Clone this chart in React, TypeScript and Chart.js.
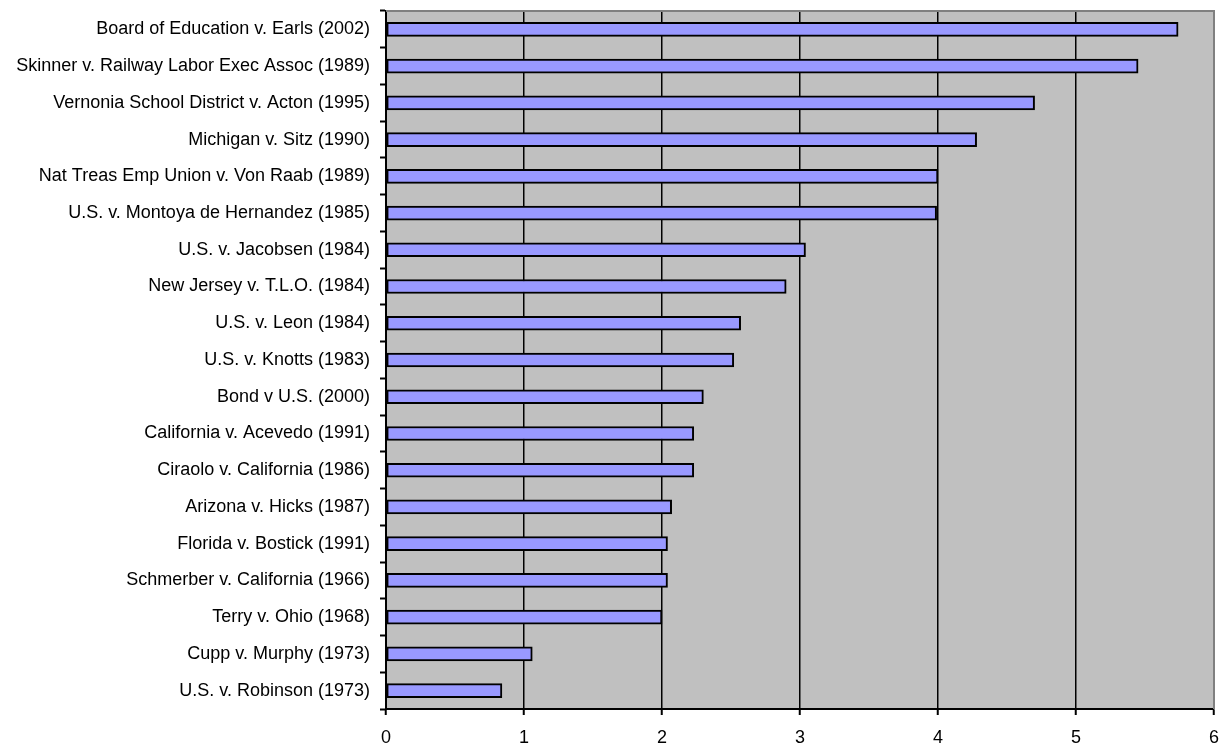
import React, { useEffect, useRef } from "react";
import { Chart, registerables } from "chart.js";

Chart.register(...registerables);

const categories: string[] = [
  "Board of Education v. Earls (2002)",
  "Skinner v. Railway Labor Exec Assoc (1989)",
  "Vernonia School District v. Acton (1995)",
  "Michigan v. Sitz (1990)",
  "Nat Treas Emp Union v. Von Raab (1989)",
  "U.S. v. Montoya de Hernandez (1985)",
  "U.S. v. Jacobsen (1984)",
  "New Jersey v. T.L.O. (1984)",
  "U.S. v. Leon (1984)",
  "U.S. v. Knotts (1983)",
  "Bond v U.S. (2000)",
  "California v. Acevedo (1991)",
  "Ciraolo v. California (1986)",
  "Arizona v. Hicks (1987)",
  "Florida v. Bostick (1991)",
  "Schmerber v. California (1966)",
  "Terry v. Ohio (1968)",
  "Cupp v. Murphy (1973)",
  "U.S. v. Robinson (1973)",
];

const values: number[] = [
  5.74, 5.45, 4.7, 4.28, 4.0, 3.99, 3.04, 2.9, 2.57, 2.52, 2.3, 2.23, 2.23,
  2.07, 2.04, 2.04, 2.0, 1.06, 0.84,
];

const xMin = 0;
const xMax = 6;
const xStep = 1;

const FONT = "'Liberation Sans', Arial, sans-serif";

const plotDecor = {
  id: "plotDecor",
  beforeDraw(chart: any) {
    const { ctx, chartArea } = chart;
    ctx.save();
    ctx.fillStyle = "#C0C0C0";
    ctx.fillRect(chartArea.left, chartArea.top, chartArea.right - chartArea.left, chartArea.bottom - chartArea.top);
    ctx.restore();
  },
  afterDraw(chart: any) {
    const { ctx, chartArea } = chart;
    ctx.save();
    ctx.strokeStyle = "#808080";
    ctx.lineWidth = 2;
    ctx.beginPath();
    ctx.moveTo(chartArea.left, chartArea.top);
    ctx.lineTo(chartArea.right, chartArea.top);
    ctx.lineTo(chartArea.right, chartArea.bottom);
    ctx.stroke();
    ctx.restore();
  },
};

function noPad(scale: any) {
  scale.paddingTop = 0;
  scale.paddingBottom = 0;
  scale.paddingLeft = 0;
  scale.paddingRight = 0;
}

export default function App() {
  const ref = useRef<HTMLCanvasElement | null>(null);

  useEffect(() => {
    if (!ref.current) return;
    const chart = new Chart(ref.current, {
      type: "bar",
      data: {
        labels: categories,
        datasets: [
          {
            data: values,
            backgroundColor: "#9999FF",
            borderColor: "#000000",
            borderWidth: 2,
            borderSkipped: false,
            barThickness: 14,
          },
        ],
      },
      options: {
        indexAxis: "y",
        animation: false,
        responsive: true,
        maintainAspectRatio: false,
        layout: { padding: { top: 11, right: 6, left: 0, bottom: 0 } },
        plugins: {
          legend: { display: false },
          tooltip: { enabled: false },
        },
        scales: {
          x: {
            min: xMin,
            max: xMax,
            ticks: {
              stepSize: xStep,
              color: "#000",
              font: { family: FONT, size: 18 },
              padding: 12,
              maxRotation: 0,
            },
            grid: {
              color: "#000",
              lineWidth: 1.5,
              drawTicks: true,
              tickLength: 6,
              tickColor: "#000",
              tickWidth: 2,
            },
            border: { color: "#000", width: 2 },
            afterFit(scale: any) {
              scale.height = 35;
              noPad(scale);
            },
          },
          y: {
            ticks: {
              color: "#000",
              font: { family: FONT, size: 18 },
              padding: 10,
              autoSkip: false,
            },
            grid: {
              drawOnChartArea: false,
              drawTicks: true,
              tickLength: 6,
              tickColor: "#000",
              tickWidth: 2,
            },
            border: { color: "#000", width: 2 },
            afterFit(scale: any) {
              scale.width = 386;
              noPad(scale);
            },
          },
        },
      },
      plugins: [plotDecor],
    });
    return () => chart.destroy();
  }, []);

  return (
    <div style={{ position: "absolute", left: 0, top: 0, width: 1220, height: 744, background: "#fff" }}>
      <canvas ref={ref} />
    </div>
  );
}
